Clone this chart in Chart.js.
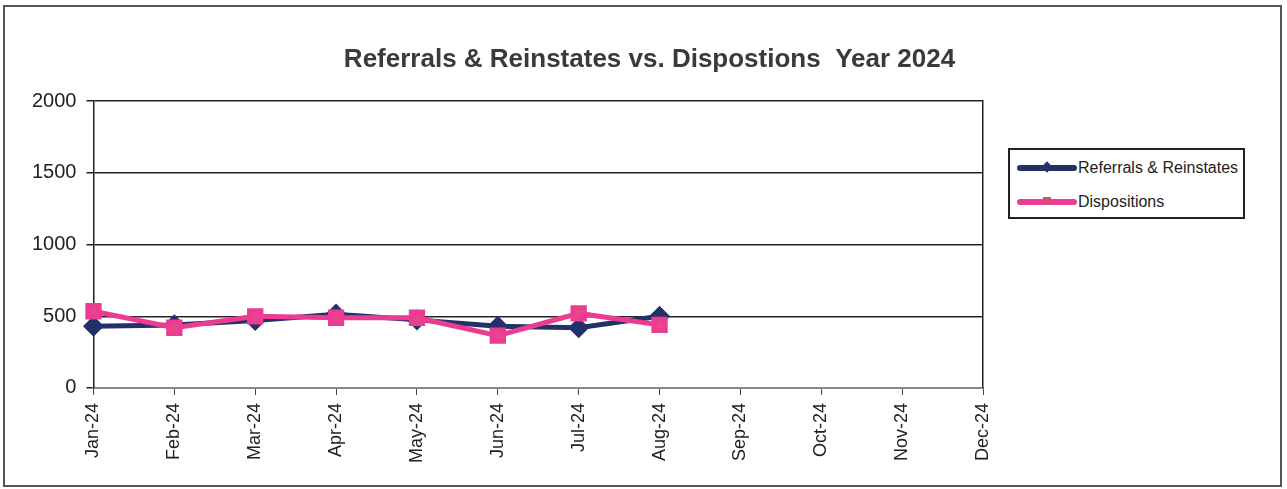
<!DOCTYPE html>
<html>
<head>
<meta charset="utf-8">
<script src="https://cdn.jsdelivr.net/npm/chart.js@4"></script>
<style>
  body { margin: 0; background: #fff; }
  #frame { position: absolute; left: 3px; top: 5px; width: 1275px; height: 478px; border: 2px solid #555; }
  #wrap { position: absolute; left: 0; top: 0; width: 1287px; height: 489px; }
  #legend { position: absolute; left: 1008px; top: 148px; width: 233px; height: 67px; border: 2px solid #222;
            font-family: "Liberation Sans", Arial, sans-serif; font-size: 16px; color: #222; background: #fff; }
  .row { position: absolute; left: 7px; height: 20px; display: flex; align-items: center; }
  .sample { position: relative; width: 60px; height: 6px; border-radius: 3px; margin-right: 1px; }
  .mark { position: absolute; left: 26px; top: -2px; width: 8px; height: 8px; }
</style>
</head>
<body>
<div id="frame"></div>
<div id="wrap"><canvas id="chart" width="1287" height="489"></canvas></div>
<div id="legend">
  <div class="row" style="top:8px"><span class="sample" style="background:#243069"><span class="mark" style="background:#243069;transform:rotate(45deg)"></span></span>Referrals &amp; Reinstates</div>
  <div class="row" style="top:42px"><span class="sample" style="background:#ec3c92"><span class="mark" style="background:#d94a7a"></span></span>Dispositions</div>
</div>
<script>
const months = ['Jan-24','Feb-24','Mar-24','Apr-24','May-24','Jun-24','Jul-24','Aug-24','Sep-24','Oct-24','Nov-24','Dec-24']
const referrals = [430, 440, 470, 515, 475, 430, 420, 500, null, null, null, null]
const dispositions = [535, 420, 500, 490, 490, 365, 520, 440, null, null, null, null]

let ctx = document.getElementById('chart').getContext('2d')
let chart = new Chart(ctx, {
    type: 'line',
    data: {
        labels: months,
        datasets: [{
            label: 'Referrals & Reinstates',
            data: referrals,
            order: 1,
            borderColor: '#243069',
            backgroundColor: '#243069',
            borderWidth: 5,
            pointStyle: 'rectRot',
            pointRadius: 7,
            pointHoverRadius: 7,
            tension: 0
        }, {
            label: 'Dispositions',
            data: dispositions,
            order: 0,
            borderColor: '#ec3c92',
            backgroundColor: '#e8478a',
            borderWidth: 5,
            pointStyle: 'rect',
            pointRadius: 8,
            pointHoverRadius: 8,
            tension: 0
        }]
    },
    options: {
        responsive: false,
        animation: false,
        layout: { padding: { left: 22, right: 10, top: 12, bottom: 18 } },
        plugins: {
            legend: { display: false },
            tooltip: { enabled: false },
            title: {
                display: true,
                text: 'Referrals & Reinstates vs. Dispostions  Year 2024',
                color: '#3a3a3a',
                font: { family: 'Liberation Sans', size: 26, weight: 'bold' },
                padding: { top: 32, bottom: 26 }
            }
        },
        scales: {
            x: {
                offset: false,
                grid: { display: true, drawOnChartArea: false, color: '#444', tickLength: 7 },
                border: { color: '#888', width: 2 },
                ticks: {
                    color: '#222',
                    font: { family: 'Liberation Sans', size: 18 },
                    minRotation: 90,
                    maxRotation: 90,
                    padding: 8
                }
            },
            y: {
                min: 0,
                max: 2000,
                grid: { color: '#222', lineWidth: 1.5, tickLength: 7 },
                border: { color: '#222', width: 1.5 },
                ticks: {
                    stepSize: 500,
                    color: '#222',
                    font: { family: 'Liberation Sans', size: 20 },
                    padding: 10,
                    callback: (value) => String(value)
                }
            },
            // empty right axis: only draws the right edge of the plot box and reserves room for the legend
            right: {
                position: 'right',
                display: true,
                grid: { display: false },
                border: { color: '#222', width: 1.5 },
                ticks: { display: false },
                afterFit: (axis) => { axis.width = 294 }
            }
        }
    }
})
</script>
</body>
</html>
